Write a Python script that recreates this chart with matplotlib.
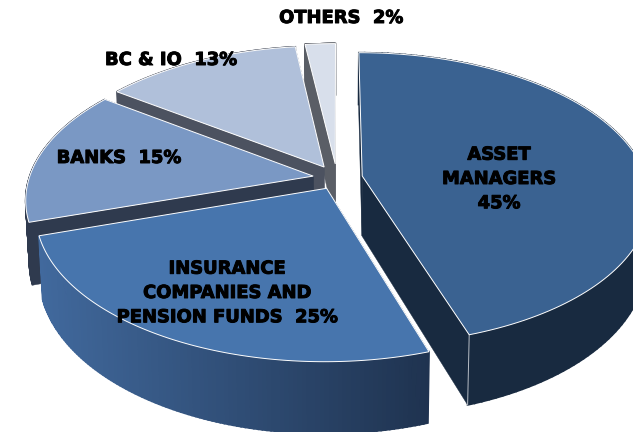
import numpy as np
import matplotlib
matplotlib.use("Agg")
import matplotlib.pyplot as plt
import matplotlib.patheffects as pe
from matplotlib.colors import to_rgb

# shares run clockwise from 12 o'clock
names = ["ASSET\nMANAGERS\n45%", "INSURANCE\nCOMPANIES AND\nPENSION FUNDS  25%",
         "BANKS  15%", "BC & IO  13%", "OTHERS  2%"]
shares = [45, 25, 15, 13, 2]

top_colors = ["#3a6291", "#4775ad", "#7a98c4", "#b0c0da", "#d8dfeb"]
wall_left = ["#182a40", "#41699d", "#2f3a4e", "#4c5260", "#5a5e66"]
wall_right = ["#182a40", "#1f3350", "#2f3a4e", "#4c5260", "#5a5e66"]
explode = [0.09, 0.08, 0.085, 0.09, 0.10]
label_xy = [(499, 179), (227, 293), (119, 158), (171, 60), (341, 18)]

CX, CY = 337, 178
RX, RY = 284, 143
PERSP = 0.155
THICK = 60


def project(u, v, down=0.0):
    # flat pie coordinates to screen pixels, far side (v=1) shrinks
    w = 1 + PERSP * v
    shrink = 1 - 0.012 * down
    return CX + RX * u / w * shrink, CY - RY * v / w + THICK * down / w


fig = plt.figure(figsize=(6.33, 4.32), dpi=100)
ax = fig.add_axes([0, 0, 1, 1])
ax.set_xlim(0, 633)
ax.set_ylim(432, 0)
ax.axis("off")

edges = 90 - np.cumsum([0] + shares) * 3.6

for i in [4, 3, 2, 1, 0]:
    a0, a1 = edges[i], edges[i + 1]
    mid = np.radians((a0 + a1) / 2)
    ou, ov = explode[i] * np.cos(mid), explode[i] * np.sin(mid)
    t = np.radians(np.linspace(a0, a1, 120))
    u = ou + np.cos(t)
    v = ov + np.sin(t)

    # radial walls first, the top face covers whatever should be hidden
    for e in [t[0], t[-1]]:
        eu, ev = ou + np.cos(e), ov + np.sin(e)
        p = [project(ou, ov), project(eu, ev), project(eu, ev, 1), project(ou, ov, 1)]
        ax.fill([q[0] for q in p], [q[1] for q in p], color=wall_right[i], lw=0.3)

    # outer wall, split up so it can carry the left to right gradient
    xt, yt = project(u, v)
    xb, yb = project(u, v, 1)
    lo, hi = xt.min(), xt.max()
    c0, c1 = np.array(to_rgb(wall_left[i])), np.array(to_rgb(wall_right[i]))
    for k in range(len(t) - 1):
        f = (xt[k] - lo) / (hi - lo)
        col = tuple(c0 + (c1 - c0) * f)
        ax.fill([xt[k], xt[k + 1], xb[k + 1], xb[k]], [yt[k], yt[k + 1], yb[k + 1], yb[k]],
                facecolor=col, edgecolor=col, lw=1.2, zorder=2)

    # pale seam on the front corner of the biggest slice
    if i == 0:
        ax.plot([xt[-1], xb[-1]], [yt[-1], yb[-1]], color="#b8bec6", lw=0.7, zorder=2.5)

    ax.fill(np.r_[project(ou, ov)[0], xt], np.r_[project(ou, ov)[1], yt],
            facecolor=top_colors[i], edgecolor="white", lw=0.7, zorder=3)

for name, (lx, ly) in zip(names, label_xy):
    ax.text(lx, ly, name, ha="center", va="center", fontsize=12.9, fontweight="bold",
            color="black", linespacing=1.45, zorder=5,
            path_effects=[pe.withStroke(linewidth=0.7, foreground="black")])

fig.savefig("out.png", dpi=100)
